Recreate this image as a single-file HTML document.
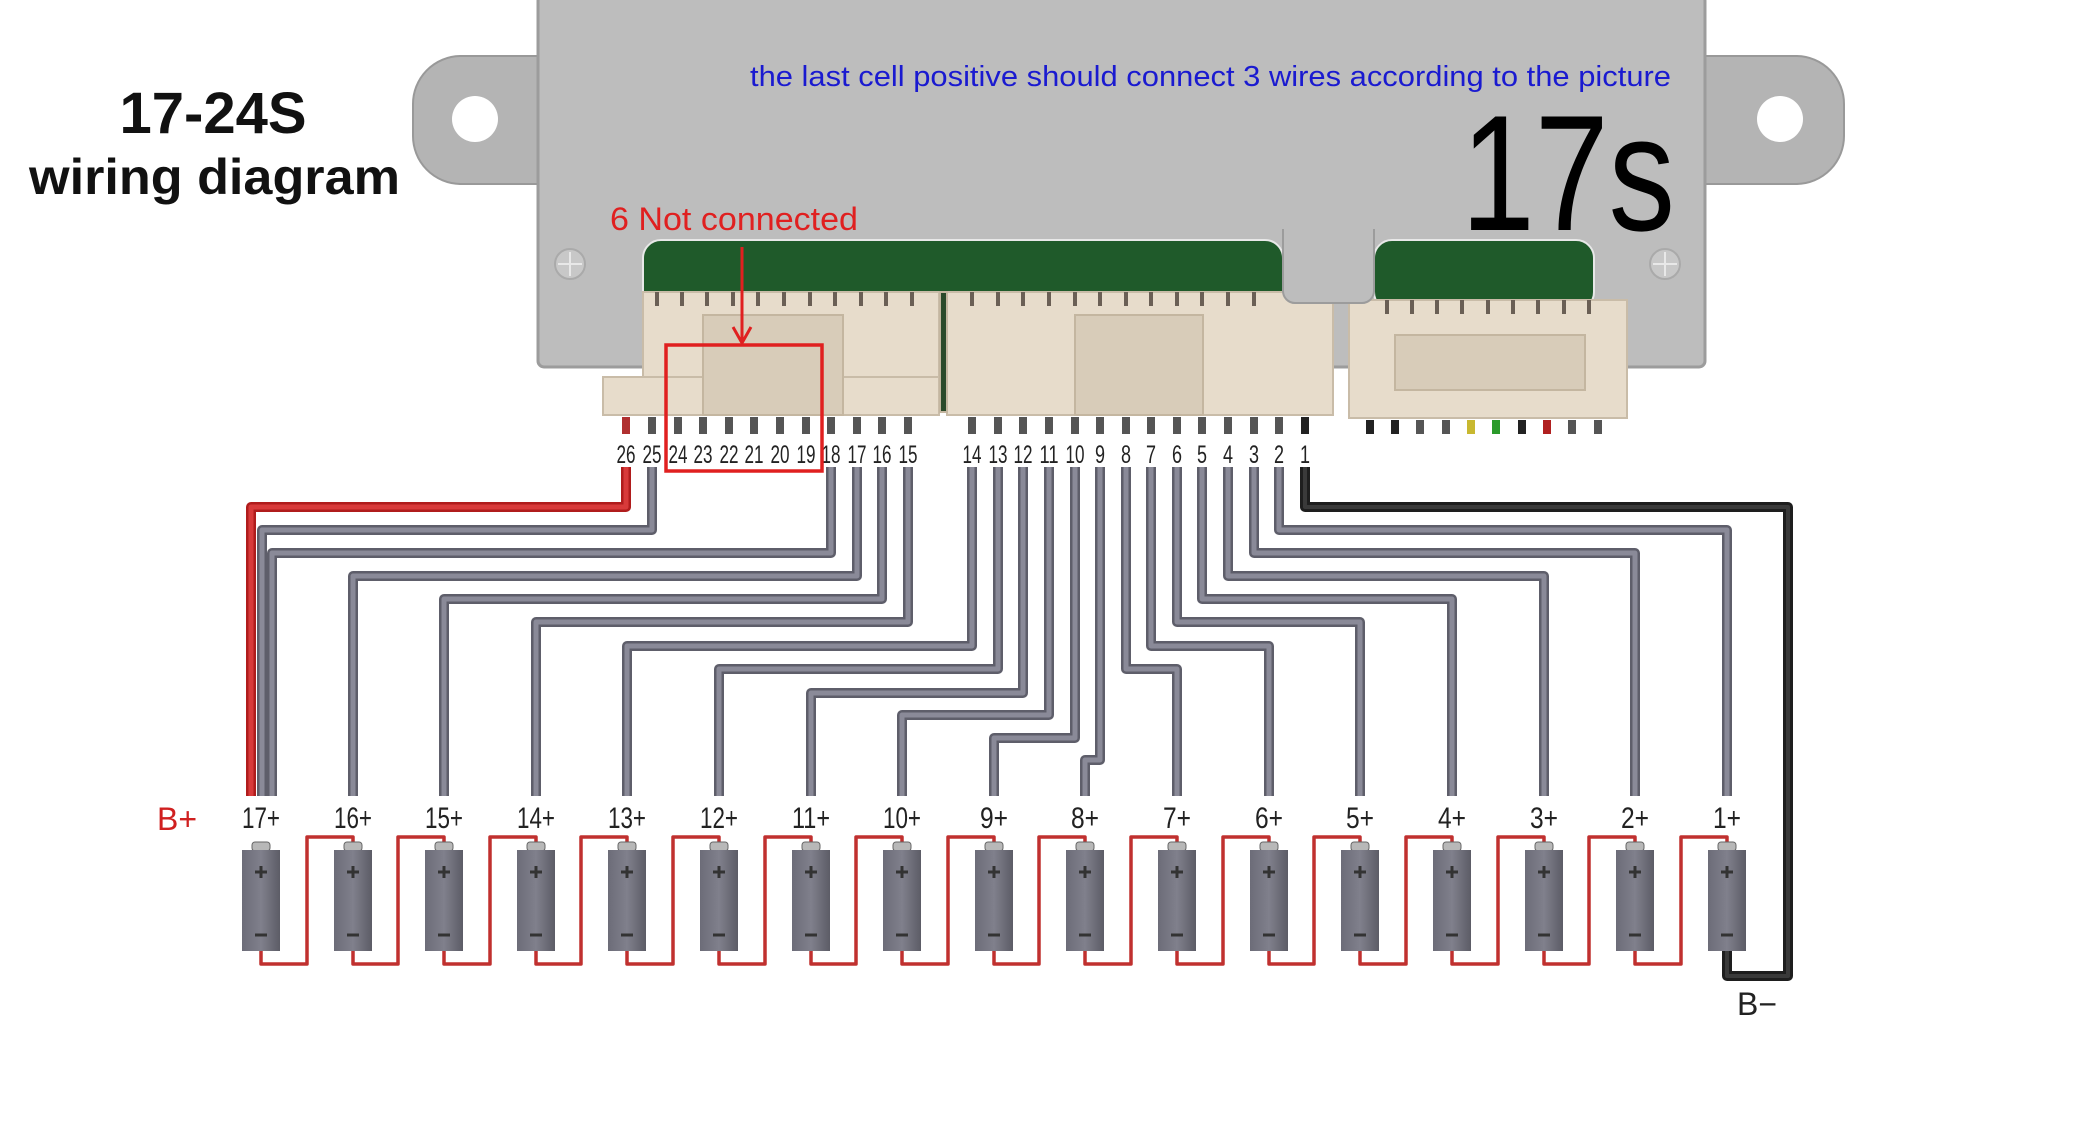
<!DOCTYPE html>
<html><head><meta charset="utf-8"><style>
html,body{margin:0;padding:0;background:#fff}
svg{display:block}
.t{font-family:"Liberation Sans",sans-serif}
.n{font-family:"Liberation Sans Narrow","Liberation Sans",sans-serif}
</style></head><body>
<svg width="2080" height="1138" viewBox="0 0 2080 1138" xmlns="http://www.w3.org/2000/svg">
<rect width="2080" height="1138" fill="#fff"/>
<path d="M540 56 H460 A48 48 0 0 0 413 104 V136 A48 48 0 0 0 460 184 H540 Z" fill="#b4b4b4" stroke="#999" stroke-width="2"/>
<circle cx="475" cy="119" r="23" fill="#fff"/>
<path d="M1705 56 H1797 A48 48 0 0 1 1844 104 V136 A48 48 0 0 1 1797 184 H1705 Z" fill="#b4b4b4" stroke="#999" stroke-width="2"/>
<circle cx="1780" cy="119" r="23" fill="#fff"/>
<rect x="538" y="-5" width="1167" height="372" rx="6" fill="#bdbdbd" stroke="#9c9c9c" stroke-width="3"/>
<circle cx="570" cy="264" r="15" fill="#c8c8c8" stroke="#aaa" stroke-width="2"/>
<path d="M570 252v24M558 264h24" stroke="#e8e8e8" stroke-width="2"/>
<circle cx="1665" cy="264" r="15" fill="#c8c8c8" stroke="#aaa" stroke-width="2"/>
<path d="M1665 252v24M1653 264h24" stroke="#e8e8e8" stroke-width="2"/>
<rect x="643" y="240" width="640" height="70" rx="18" fill="#1f5a2a" stroke="#e8e8e8" stroke-width="2"/>
<rect x="1374" y="240" width="220" height="70" rx="18" fill="#1f5a2a" stroke="#e8e8e8" stroke-width="2"/>
<g fill="#e7dccb" stroke="#c9bca8" stroke-width="2">
<rect x="643" y="292" width="296" height="85"/>
<rect x="603" y="377" width="336" height="38"/>
<rect x="947" y="292" width="386" height="123"/>
<rect x="1349" y="300" width="278" height="118"/>
</g>
<g fill="#d8ccb9" stroke="#c4b6a0" stroke-width="2">
<rect x="703" y="315" width="140" height="100"/>
<rect x="1075" y="315" width="128" height="100"/>
<rect x="1395" y="335" width="190" height="55"/>
<rect x="940" y="292" width="7" height="120" fill="#2a4a2a"/>
</g>
<g fill="#6a5f55">
<rect x="655" y="292" width="4" height="14"/><rect x="680" y="292" width="4" height="14"/><rect x="705" y="292" width="4" height="14"/><rect x="731" y="292" width="4" height="14"/><rect x="756" y="292" width="4" height="14"/><rect x="782" y="292" width="4" height="14"/><rect x="808" y="292" width="4" height="14"/><rect x="833" y="292" width="4" height="14"/><rect x="859" y="292" width="4" height="14"/><rect x="884" y="292" width="4" height="14"/><rect x="910" y="292" width="4" height="14"/>
<rect x="970" y="292" width="4" height="14"/><rect x="996" y="292" width="4" height="14"/><rect x="1021" y="292" width="4" height="14"/><rect x="1047" y="292" width="4" height="14"/><rect x="1073" y="292" width="4" height="14"/><rect x="1098" y="292" width="4" height="14"/><rect x="1124" y="292" width="4" height="14"/><rect x="1149" y="292" width="4" height="14"/><rect x="1175" y="292" width="4" height="14"/><rect x="1200" y="292" width="4" height="14"/><rect x="1226" y="292" width="4" height="14"/><rect x="1252" y="292" width="4" height="14"/>
<rect x="1385" y="300" width="4" height="14"/><rect x="1410" y="300" width="4" height="14"/><rect x="1435" y="300" width="4" height="14"/><rect x="1460" y="300" width="4" height="14"/><rect x="1486" y="300" width="4" height="14"/><rect x="1511" y="300" width="4" height="14"/><rect x="1536" y="300" width="4" height="14"/><rect x="1562" y="300" width="4" height="14"/><rect x="1587" y="300" width="4" height="14"/>
</g>
<path d="M1283 230 V291 A12 12 0 0 0 1295 303 H1362 A12 12 0 0 0 1374 291 V230 Z" fill="#bdbdbd" stroke="#9c9c9c" stroke-width="2"/>
<rect x="1284" y="225" width="89" height="12" fill="#bdbdbd"/>
<g fill="#555">
<rect x="622" y="417" width="8" height="17" fill="#b03030"/><rect x="648" y="417" width="8" height="17"/><rect x="674" y="417" width="8" height="17"/><rect x="699" y="417" width="8" height="17"/><rect x="725" y="417" width="8" height="17"/><rect x="750" y="417" width="8" height="17"/><rect x="776" y="417" width="8" height="17"/><rect x="802" y="417" width="8" height="17"/><rect x="827" y="417" width="8" height="17"/><rect x="853" y="417" width="8" height="17"/><rect x="878" y="417" width="8" height="17"/><rect x="904" y="417" width="8" height="17"/>
<rect x="968" y="417" width="8" height="17"/><rect x="994" y="417" width="8" height="17"/><rect x="1019" y="417" width="8" height="17"/><rect x="1045" y="417" width="8" height="17"/><rect x="1071" y="417" width="8" height="17"/><rect x="1096" y="417" width="8" height="17"/><rect x="1122" y="417" width="8" height="17"/><rect x="1147" y="417" width="8" height="17"/><rect x="1173" y="417" width="8" height="17"/><rect x="1198" y="417" width="8" height="17"/><rect x="1224" y="417" width="8" height="17"/><rect x="1250" y="417" width="8" height="17"/><rect x="1275" y="417" width="8" height="17"/><rect x="1301" y="417" width="8" height="17" fill="#222"/>
<rect x="1366" y="420" width="8" height="14" fill="#222"/><rect x="1391" y="420" width="8" height="14" fill="#222"/><rect x="1416" y="420" width="8" height="14"/><rect x="1442" y="420" width="8" height="14"/><rect x="1467" y="420" width="8" height="14" fill="#c8b830"/><rect x="1492" y="420" width="8" height="14" fill="#2a9a2a"/><rect x="1518" y="420" width="8" height="14" fill="#222"/><rect x="1543" y="420" width="8" height="14" fill="#b02020"/><rect x="1568" y="420" width="8" height="14"/><rect x="1594" y="420" width="8" height="14"/>
</g>
<g class="n" font-size="25" fill="#222" text-anchor="middle">
<text x="626" y="463" textLength="19" lengthAdjust="spacingAndGlyphs">26</text><text x="652" y="463" textLength="19" lengthAdjust="spacingAndGlyphs">25</text><text x="678" y="463" textLength="19" lengthAdjust="spacingAndGlyphs">24</text><text x="703" y="463" textLength="19" lengthAdjust="spacingAndGlyphs">23</text><text x="729" y="463" textLength="19" lengthAdjust="spacingAndGlyphs">22</text><text x="754" y="463" textLength="19" lengthAdjust="spacingAndGlyphs">21</text><text x="780" y="463" textLength="19" lengthAdjust="spacingAndGlyphs">20</text><text x="806" y="463" textLength="19" lengthAdjust="spacingAndGlyphs">19</text><text x="831" y="463" textLength="19" lengthAdjust="spacingAndGlyphs">18</text><text x="857" y="463" textLength="19" lengthAdjust="spacingAndGlyphs">17</text><text x="882" y="463" textLength="19" lengthAdjust="spacingAndGlyphs">16</text><text x="908" y="463" textLength="19" lengthAdjust="spacingAndGlyphs">15</text>
<text x="972" y="463" textLength="19" lengthAdjust="spacingAndGlyphs">14</text><text x="998" y="463" textLength="19" lengthAdjust="spacingAndGlyphs">13</text><text x="1023" y="463" textLength="19" lengthAdjust="spacingAndGlyphs">12</text><text x="1049" y="463" textLength="19" lengthAdjust="spacingAndGlyphs">11</text><text x="1075" y="463" textLength="19" lengthAdjust="spacingAndGlyphs">10</text><text x="1100" y="463" textLength="10" lengthAdjust="spacingAndGlyphs">9</text><text x="1126" y="463" textLength="10" lengthAdjust="spacingAndGlyphs">8</text><text x="1151" y="463" textLength="10" lengthAdjust="spacingAndGlyphs">7</text><text x="1177" y="463" textLength="10" lengthAdjust="spacingAndGlyphs">6</text><text x="1202" y="463" textLength="10" lengthAdjust="spacingAndGlyphs">5</text><text x="1228" y="463" textLength="10" lengthAdjust="spacingAndGlyphs">4</text><text x="1254" y="463" textLength="10" lengthAdjust="spacingAndGlyphs">3</text><text x="1279" y="463" textLength="10" lengthAdjust="spacingAndGlyphs">2</text><text x="1305" y="463" textLength="10" lengthAdjust="spacingAndGlyphs">1</text>
</g>
<rect x="666" y="345" width="156" height="126" fill="none" stroke="#e02020" stroke-width="3.5"/>
<path d="M742 247 V340" stroke="#e02020" stroke-width="3"/>
<path d="M733 327 L742 343 L751 327" fill="none" stroke="#e02020" stroke-width="3"/>
<g fill="none" stroke-linejoin="round" stroke-linecap="butt">
<g stroke="#5e5e6a" stroke-width="10">
<polyline points="652,467 652,530 262,530 262,796"/>
<polyline points="831,467 831,553 272,553 272,796"/>
<polyline points="857,467 857,576 353,576 353,796"/>
<polyline points="882,467 882,599 444,599 444,796"/>
<polyline points="908,467 908,622 536,622 536,796"/>
<polyline points="972,467 972,646 627,646 627,796"/>
<polyline points="998,467 998,669 719,669 719,796"/>
<polyline points="1023,467 1023,693 811,693 811,796"/>
<polyline points="1049,467 1049,715 902,715 902,796"/>
<polyline points="1075,467 1075,738 994,738 994,796"/>
<polyline points="1100,467 1100,760 1085,760 1085,796"/>
<polyline points="1126,467 1126,669 1177,669 1177,796"/>
<polyline points="1151,467 1151,646 1269,646 1269,796"/>
<polyline points="1177,467 1177,622 1360,622 1360,796"/>
<polyline points="1202,467 1202,599 1452,599 1452,796"/>
<polyline points="1228,467 1228,576 1544,576 1544,796"/>
<polyline points="1254,467 1254,553 1635,553 1635,796"/>
<polyline points="1279,467 1279,530 1727,530 1727,796"/>
</g>
<g stroke="#8a8a98" stroke-width="5">
<polyline points="652,467 652,530 262,530 262,796"/>
<polyline points="831,467 831,553 272,553 272,796"/>
<polyline points="857,467 857,576 353,576 353,796"/>
<polyline points="882,467 882,599 444,599 444,796"/>
<polyline points="908,467 908,622 536,622 536,796"/>
<polyline points="972,467 972,646 627,646 627,796"/>
<polyline points="998,467 998,669 719,669 719,796"/>
<polyline points="1023,467 1023,693 811,693 811,796"/>
<polyline points="1049,467 1049,715 902,715 902,796"/>
<polyline points="1075,467 1075,738 994,738 994,796"/>
<polyline points="1100,467 1100,760 1085,760 1085,796"/>
<polyline points="1126,467 1126,669 1177,669 1177,796"/>
<polyline points="1151,467 1151,646 1269,646 1269,796"/>
<polyline points="1177,467 1177,622 1360,622 1360,796"/>
<polyline points="1202,467 1202,599 1452,599 1452,796"/>
<polyline points="1228,467 1228,576 1544,576 1544,796"/>
<polyline points="1254,467 1254,553 1635,553 1635,796"/>
<polyline points="1279,467 1279,530 1727,530 1727,796"/>
</g>
<polyline points="626,467 626,507 251,507 251,796" stroke="#b01c1c" stroke-width="10"/>
<polyline points="626,467 626,507 251,507 251,796" stroke="#d83a3a" stroke-width="5"/>
<polyline points="1305,467 1305,507 1788,507 1788,976 1727,976 1727,951" stroke="#1e1e1e" stroke-width="10"/>
<polyline points="1305,467 1305,507 1788,507 1788,976 1727,976 1727,951" stroke="#3a3a3a" stroke-width="4"/>
</g>
<g fill="none" stroke="#c0302f" stroke-width="3.5" stroke-linejoin="round">
<path d="M261 951V964H307V837H353V845"/>
<path d="M353 951V964H398V837H444V845"/>
<path d="M444 951V964H490V837H536V845"/>
<path d="M536 951V964H581V837H627V845"/>
<path d="M627 951V964H673V837H719V845"/>
<path d="M719 951V964H765V837H811V845"/>
<path d="M811 951V964H856V837H902V845"/>
<path d="M902 951V964H948V837H994V845"/>
<path d="M994 951V964H1039V837H1085V845"/>
<path d="M1085 951V964H1131V837H1177V845"/>
<path d="M1177 951V964H1223V837H1269V845"/>
<path d="M1269 951V964H1314V837H1360V845"/>
<path d="M1360 951V964H1406V837H1452V845"/>
<path d="M1452 951V964H1498V837H1544V845"/>
<path d="M1544 951V964H1589V837H1635V845"/>
<path d="M1635 951V964H1681V837H1727V845"/>
</g>
<defs>
<linearGradient id="cg" x1="0" x2="1"><stop offset="0" stop-color="#6c6c78"/><stop offset="0.5" stop-color="#80808c"/><stop offset="1" stop-color="#5c5c66"/></linearGradient>
<g id="cell">
<rect x="-9" y="-8" width="18" height="9" rx="3" fill="#b8b8b8" stroke="#666" stroke-width="1"/>
<rect x="-19" y="0" width="38" height="101" fill="url(#cg)"/>
<path d="M-6 22h12M0 16v12" stroke="#333" stroke-width="3"/>
<path d="M-6 85h12" stroke="#333" stroke-width="3"/>
</g>
</defs>
<g transform="translate(0,850)">
<use href="#cell" x="261"/><use href="#cell" x="353"/><use href="#cell" x="444"/><use href="#cell" x="536"/><use href="#cell" x="627"/><use href="#cell" x="719"/><use href="#cell" x="811"/><use href="#cell" x="902"/><use href="#cell" x="994"/><use href="#cell" x="1085"/><use href="#cell" x="1177"/><use href="#cell" x="1269"/><use href="#cell" x="1360"/><use href="#cell" x="1452"/><use href="#cell" x="1544"/><use href="#cell" x="1635"/><use href="#cell" x="1727"/>
</g>
<g class="n" font-size="30" fill="#222" text-anchor="middle">
<text x="261" y="828" textLength="38" lengthAdjust="spacingAndGlyphs">17+</text><text x="353" y="828" textLength="38" lengthAdjust="spacingAndGlyphs">16+</text><text x="444" y="828" textLength="38" lengthAdjust="spacingAndGlyphs">15+</text><text x="536" y="828" textLength="38" lengthAdjust="spacingAndGlyphs">14+</text><text x="627" y="828" textLength="38" lengthAdjust="spacingAndGlyphs">13+</text><text x="719" y="828" textLength="38" lengthAdjust="spacingAndGlyphs">12+</text><text x="811" y="828" textLength="38" lengthAdjust="spacingAndGlyphs">11+</text><text x="902" y="828" textLength="38" lengthAdjust="spacingAndGlyphs">10+</text><text x="994" y="828" textLength="28" lengthAdjust="spacingAndGlyphs">9+</text><text x="1085" y="828" textLength="28" lengthAdjust="spacingAndGlyphs">8+</text><text x="1177" y="828" textLength="28" lengthAdjust="spacingAndGlyphs">7+</text><text x="1269" y="828" textLength="28" lengthAdjust="spacingAndGlyphs">6+</text><text x="1360" y="828" textLength="28" lengthAdjust="spacingAndGlyphs">5+</text><text x="1452" y="828" textLength="28" lengthAdjust="spacingAndGlyphs">4+</text><text x="1544" y="828" textLength="28" lengthAdjust="spacingAndGlyphs">3+</text><text x="1635" y="828" textLength="28" lengthAdjust="spacingAndGlyphs">2+</text><text x="1727" y="828" textLength="28" lengthAdjust="spacingAndGlyphs">1+</text>
</g>
<text class="t" x="177" y="830" font-size="32" fill="#d02020" text-anchor="middle">B+</text>
<text class="t" x="1757" y="1015" font-size="32" fill="#222" text-anchor="middle">B−</text>
<text class="t" x="213" y="133" font-size="58" font-weight="bold" fill="#111" text-anchor="middle">17-24S</text>
<text class="t" x="29" y="194" font-size="50" font-weight="bold" fill="#111" textLength="371" lengthAdjust="spacingAndGlyphs">wiring diagram</text>
<text class="t" x="750" y="86" font-size="29" fill="#1a1ad0" textLength="921" lengthAdjust="spacingAndGlyphs">the last cell positive should connect 3 wires according to the picture</text>
<text class="t" x="1461" y="230" font-size="165" fill="#000" textLength="214" lengthAdjust="spacingAndGlyphs">17s</text>
<text class="t" x="610" y="230" font-size="32" fill="#e02020" textLength="248" lengthAdjust="spacingAndGlyphs">6 Not connected</text>
</svg>
</body></html>
